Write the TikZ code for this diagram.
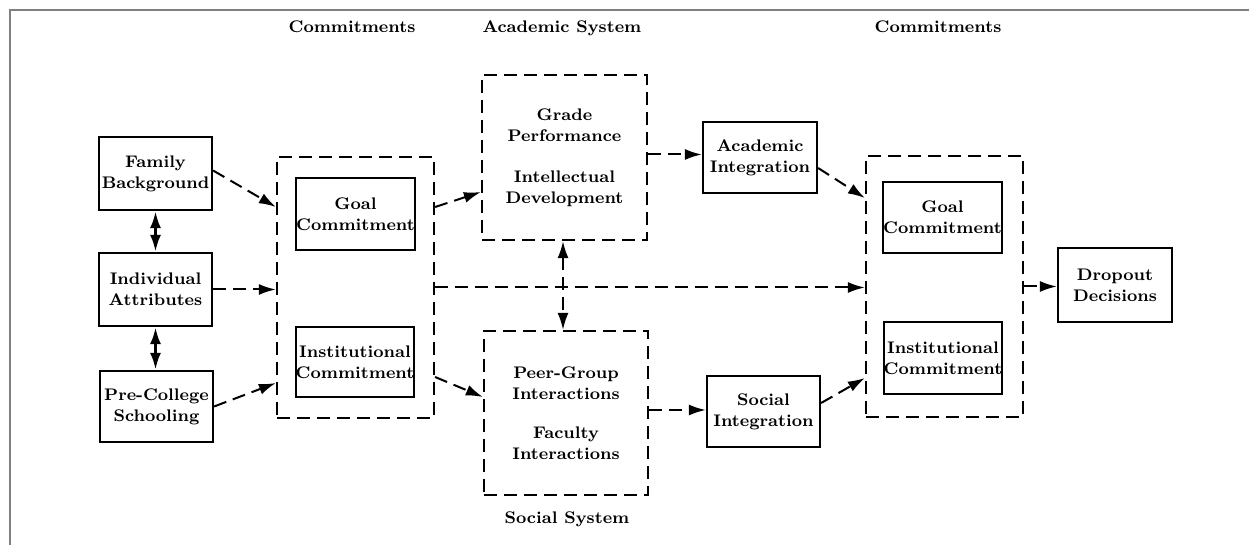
\documentclass[tikz,border=0pt]{standalone}
\usetikzlibrary{arrows.meta,calc}
\begin{document}
\begin{tikzpicture}[x=0.5pt,y=-0.5pt,
  every node/.style={font=\fontsize{8.4}{10.5}\selectfont\bfseries, align=center, inner sep=0pt},
  solidbox/.style={draw, line width=1.1pt},
  dashbox/.style={draw, line width=1.1pt, dash pattern=on 6.5pt off 3.5pt},
  tip/.tip={Latex[length=8.5pt,width=5.5pt]},
  dline/.style={line width=1pt, dash pattern=on 6.5pt off 3.5pt, -tip},
  ddline/.style={line width=1pt, dash pattern=on 6.5pt off 3.5pt, tip-tip},
  sdline/.style={line width=1.5pt, tip-tip}]
\useasboundingbox (0,0) rectangle (1249,545);
\draw[gray, line width=0.6pt] (1249,10) -- (10,10) -- (10,545);

% labels
\node (lc) at (352,27) {Commitments};
\node (la) at (562,28) {Academic System};
\node (rc) at (938,27) {Commitments};
\node (ls) at (567,519) {Social System};

% left column
\node[solidbox, minimum width=56.5pt, minimum height=36.5pt] (fam) at (155.5,173.5) {Family\\Background};
\node[solidbox, minimum width=56.5pt, minimum height=36.5pt] (ind) at (155.5,289.5) {Individual\\Attributes};
\node[solidbox, minimum width=56.5pt, minimum height=35.5pt] (pre) at (156.5,406.5) {Pre-College\\Schooling};

% left commitments
\node[dashbox, minimum width=78.5pt, minimum height=130.5pt] (L) at (355.5,287.5) {};
\node[solidbox, minimum width=57.5pt, minimum height=36pt] (gl) at (355.5,214) {Goal\\Commitment};
\node[solidbox, minimum width=57pt, minimum height=35pt] (il) at (355,362) {Institutional\\Commitment};

% systems
\node[dashbox, minimum width=82.5pt, minimum height=82.5pt] (A) at (564.5,157.5) {Grade\\Performance\\[10pt]Intellectual\\Development};
\node[dashbox, minimum width=82pt, minimum height=82pt] (S) at (566,413) {Peer-Group\\Interactions\\[9pt]Faculty\\Interactions};

% integration
\node[solidbox, minimum width=57pt, minimum height=35.5pt] (ai) at (760,157.5) {Academic\\Integration};
\node[solidbox, minimum width=56.5pt, minimum height=35.5pt] (si) at (763.5,411.5) {Social\\Integration};

% right commitments
\node[dashbox, minimum width=78.5pt, minimum height=130.5pt] (R) at (944.5,286.5) {};
\node[solidbox, minimum width=57.5pt, minimum height=35.5pt] (gr) at (942.5,217.5) {Goal\\Commitment};
\node[solidbox, minimum width=57pt, minimum height=36pt] (ir) at (943,358) {Institutional\\Commitment};

% dropout
\node[solidbox, minimum width=57pt, minimum height=37pt] (dd) at (1115,285) {Dropout\\Decisions};

% connectors
\draw[sdline] (fam.south) -- (ind.north);
\draw[sdline] (ind.south) -- (ind.south |- pre.north);
\draw[dline] ($(fam.east)+(0,-3)$) -- ($(L.west)+(0,-80.5)$);
\draw[dline] (ind.east) -- (ind.east -| L.west);
\draw[dline] (pre.east) -- ($(L.west)+(0,95.5)$);
\draw[dline] ($(L.east)+(0,-80.5)$) -- ($(A.west)+(0,34.5)$);
\draw[dline] ($(L.east)+(0,89.5)$) -- ($(S.west)+(0,-16)$);
\draw[dline] ($(A.east)+(0,-3)$) -- ($(ai.west)+(0,-3)$);
\draw[dline] ($(S.east)+(0,-3)$) -- ($(S.east -| si.west)+(0,-3)$);
\draw[dline] ($(ai.east)+(0,10.5)$) -- ($(R.west)+(0,-88.5)$);
\draw[dline] ($(si.east)+(0,-8.5)$) -- ($(R.west)+(0,91.5)$);
\draw[dline] (L.east) -- (L.east -| R.west);
\draw[ddline] ($(A.south)+(-1.5,0)$) -- ($(A.south |- S.north)+(-1.5,0)$);
\draw[dline] (R.east) -- (R.east -| dd.west);
\end{tikzpicture}
\end{document}
